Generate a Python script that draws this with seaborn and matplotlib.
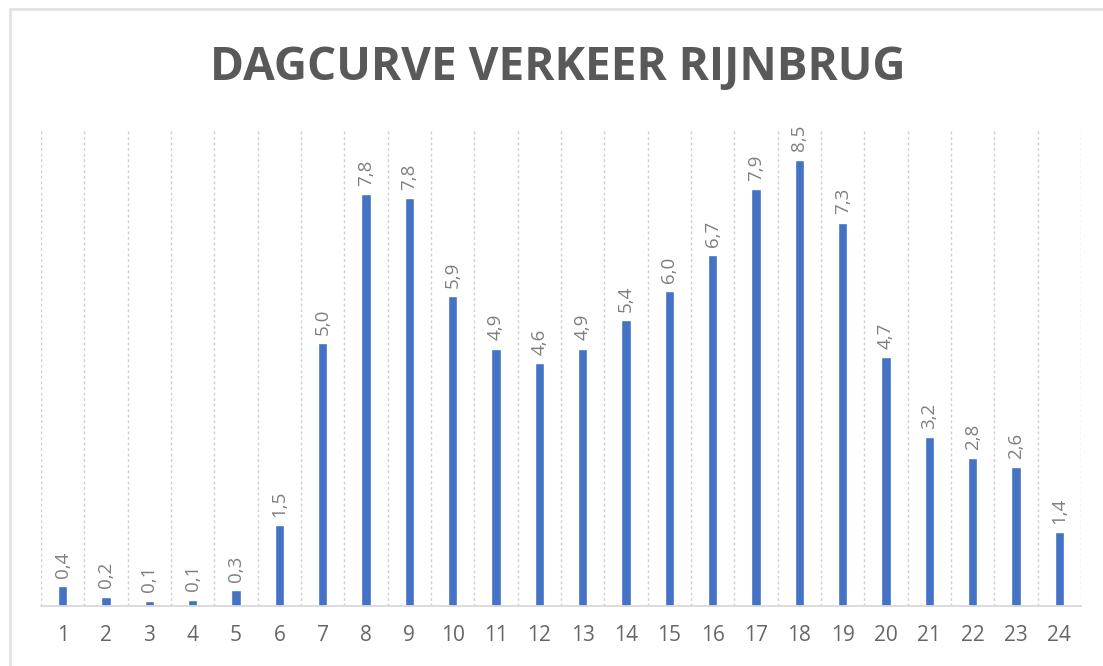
import numpy as np
import pandas as pd
import seaborn as sns
import matplotlib
matplotlib.use("Agg")
import matplotlib.pyplot as plt
from matplotlib.lines import Line2D

sns.set_theme(style="white")
plt.rcParams['font.family'] = ['Open Sans', 'DejaVu Sans']

# uur van de dag en aandeel verkeer (%)
uren = [str(i) for i in range(1, 25)]
aandeel = [0.38, 0.18, 0.10, 0.12, 0.30, 1.54, 5.00, 7.84, 7.76, 5.90, 4.90, 4.62,
           4.90, 5.44, 6.00, 6.68, 7.94, 8.50, 7.30, 4.74, 3.22, 2.82, 2.64, 1.40]
titel = "DAGCURVE VERKEER RIJNBRUG"

df = pd.DataFrame({'uur': uren, 'aandeel': aandeel})

fig = plt.figure(figsize=(11.03, 6.66), dpi=100)
ax = fig.add_axes([41 / 1103, 60 / 666, 1040 / 1103, 478 / 666])

sns.barplot(data=df, x='uur', y='aandeel', color='#4472C4', saturation=1,
            width=0.22, ax=ax, errorbar=None)

ax.set_xlim(-0.5, 23.5)
ax.set_ylim(0, 9.1)
ax.set_xlabel("")
ax.set_ylabel("")
ax.set_yticks([])

# verticale stippellijnen tussen de uren
ax.set_xticks(np.arange(-0.5, 24, 1), minor=True)
ax.grid(which='minor', axis='x', color='#cfcfcf', linestyle=(0, (2, 2)), linewidth=1)
ax.tick_params(axis='x', which='minor', length=0)
ax.tick_params(axis='x', which='major', length=0, pad=14, labelsize=15, labelcolor='#666666')

for s in ['top', 'left', 'right']:
    ax.spines[s].set_visible(False)
ax.spines['bottom'].set_color('#d9d9d9')
ax.spines['bottom'].set_linewidth(1.3)

labels = [f"{v:.1f}".replace('.', ',') for v in aandeel]
ax.bar_label(ax.containers[0], labels=labels, rotation=90, padding=6,
             fontsize=13.5, color='#7f7f7f')

fig.text(0.506, 0.898, titel, ha='center', va='center', fontsize=33,
         fontweight='bold', color='#595959')

# lichte rand linksboven
fig.add_artist(Line2D([10 / 1103, 1], [1 - 9 / 666, 1 - 9 / 666], color='#e3e3e3', lw=2))
fig.add_artist(Line2D([10 / 1103, 10 / 1103], [0, 1 - 9 / 666], color='#e3e3e3', lw=2))

fig.savefig("out.png", dpi=100)
